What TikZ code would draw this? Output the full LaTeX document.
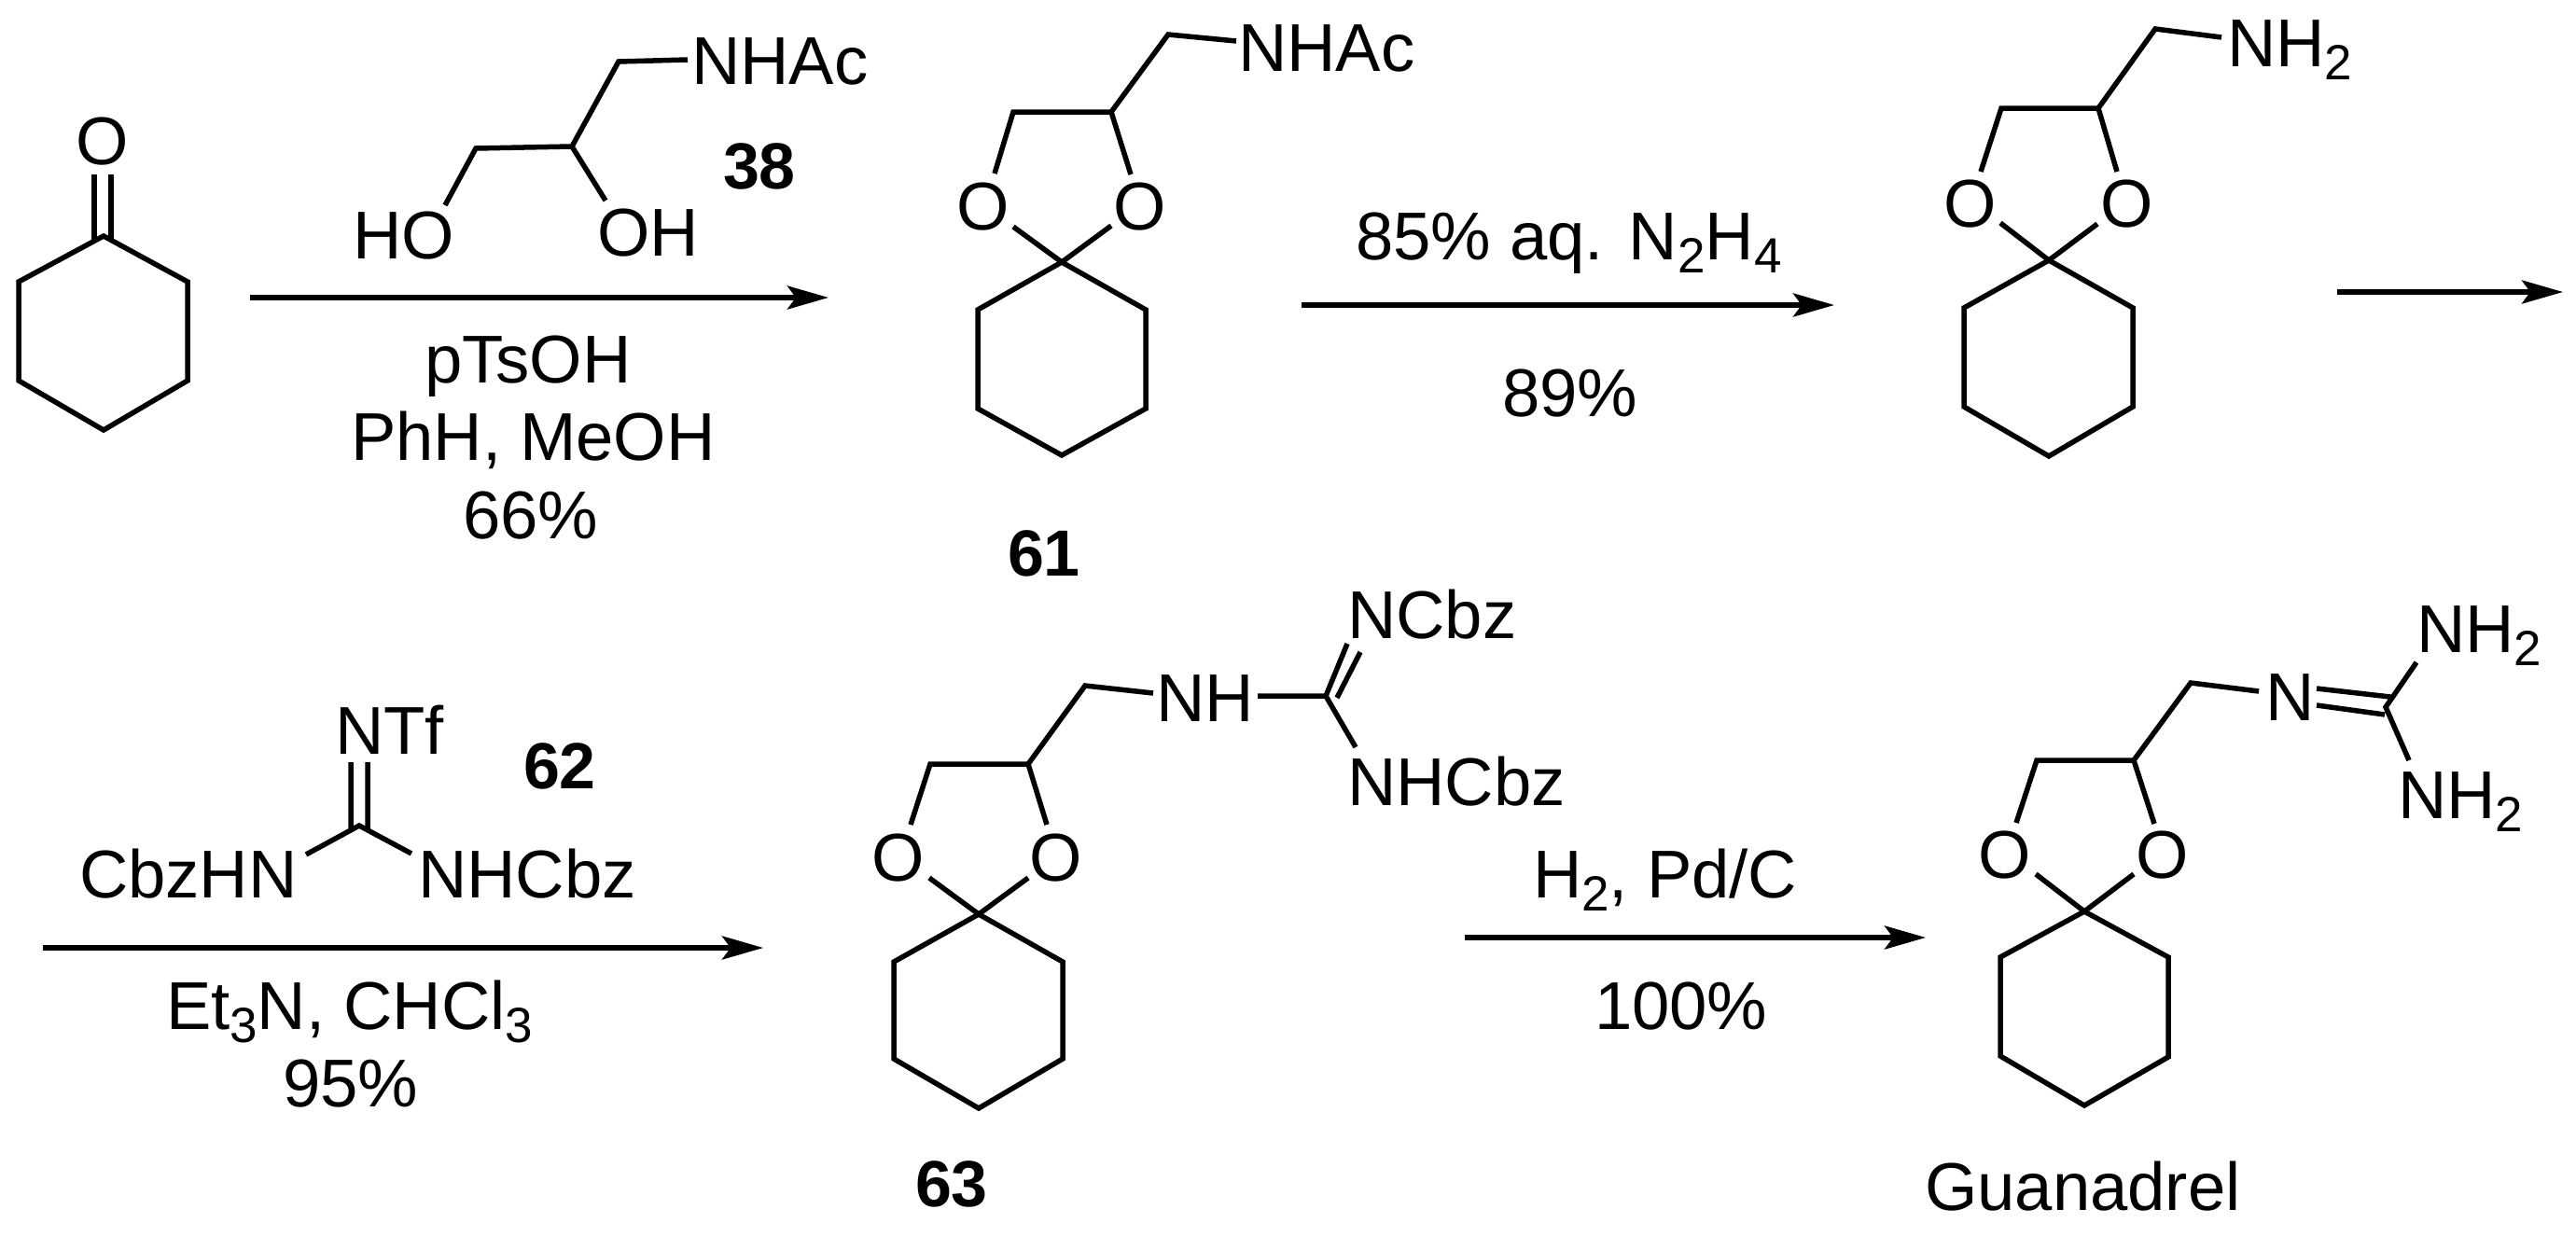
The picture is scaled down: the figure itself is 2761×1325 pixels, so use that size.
\documentclass[tikz,border=0pt]{standalone}
\usepackage{fontspec}
\setmainfont{Liberation Sans}
\usetikzlibrary{arrows.meta}
\newcommand{\chemsub}[1]{\raisebox{-14pt}{\fontsize{53}{58}\selectfont #1}}
\tikzset{
  lbl/.style={inner sep=0pt,outer sep=0pt,anchor=base west,font=\fontsize{72.5}{84}\selectfont},
  atom/.style={inner sep=0pt,outer sep=0pt,anchor=center,font=\fontsize{72.5}{84}\selectfont},
  num/.style={lbl,font=\fontsize{70}{84}\selectfont\bfseries},
  bond/.style={line width=5.5pt,line join=miter,line cap=butt},
  rxn/.style={line width=5.5pt,-{Stealth[length=44pt,width=25pt,inset=9pt]}}
}
\begin{document}
\begin{tikzpicture}[x=1pt,y=-1pt]
\useasboundingbox (0,0) rectangle (2761,1325);
% ---- cyclohexanone
\node[atom] (oa) at (110,152) {O};
\coordinate (a1) at (111,253);
\coordinate (a2) at (201,302);
\coordinate (a3) at (201,408);
\coordinate (a4) at (111,461);
\coordinate (a5) at (20,408);
\coordinate (a6) at (20,302);
\coordinate (ao1) at (101,187);
\coordinate (ao2) at (119,187);
\coordinate (ao1b) at (101,257);
\coordinate (ao2b) at (119,257);
\draw[bond] (a1)--(a2)--(a3)--(a4)--(a5)--(a6)--cycle;
\draw[bond] (ao1)--(ao1b) (ao2)--(ao2b);
% ---- reagent 38
\node[lbl] (b-nhac) at (741,90) {NHAc};
\node[lbl] (b-ho) at (378,277) {HO};
\node[lbl] (b-oh) at (640,274) {OH};
\node[num] (b-num) at (775,202) {38};
\coordinate (b1) at (737,64);
\coordinate (b2) at (663,66);
\coordinate (b3) at (613,157);
\coordinate (b4) at (510,159);
\coordinate (b5) at (477,220);
\coordinate (b6) at (649,215);
\draw[bond] (b1)--(b2)--(b3)--(b4)--(b5) (b3)--(b6);
% ---- arrow 1
\coordinate (r1s) at (268,319);
\coordinate (r1e) at (888,319);
\draw[rxn] (r1s)--(r1e);
\node[lbl] (r1a) at (455,410) {pTsOH};
\node[lbl] (r1b) at (376,493) {PhH, MeOH};
\node[lbl] (r1c) at (496,577) {66\%};
% ---- compound 61
\node[lbl] (c-nhac) at (1327,76) {NHAc};
\node[atom] (c-ol) at (1054,222) {O};
\node[atom] (c-or) at (1222,222) {O};
\node[num] (c-num) at (1080,617) {61};
\coordinate (c1) at (1325,44);
\coordinate (c2) at (1252,37);
\coordinate (c3) at (1191,120);
\coordinate (c4) at (1086,120);
\coordinate (c5) at (1066,186);
\coordinate (c6) at (1212,187);
\coordinate (c7) at (1086,243);
\coordinate (c8) at (1191,242);
\coordinate (cs) at (1138,281);
\coordinate (cr1) at (1228,332);
\coordinate (cr2) at (1228,438);
\coordinate (cr3) at (1138,488);
\coordinate (cr4) at (1048,438);
\coordinate (cr5) at (1048,332);
\draw[bond] (c1)--(c2)--(c3)--(c4)--(c5) (c3)--(c6) (c7)--(cs)--(c8);
\draw[bond] (cs)--(cr1)--(cr2)--(cr3)--(cr4)--(cr5)--cycle;
% ---- arrow 2
\coordinate (r2s) at (1395,327);
\coordinate (r2e) at (1966,327);
\draw[rxn] (r2s)--(r2e);
\node[lbl] (r2a) at (1453,278) {85\% aq. N\chemsub{2}H\chemsub{4}};
\node[lbl] (r2b) at (1610,446) {89\%};
% ---- amine
\node[lbl] (d-nh) at (2387,71) {NH\chemsub{2}};
\node[atom] (d-ol) at (2112,219) {O};
\node[atom] (d-or) at (2280,219) {O};
\coordinate (d1) at (2381,40);
\coordinate (d2) at (2310,31);
\coordinate (d3) at (2249,116);
\coordinate (d4) at (2145,116);
\coordinate (d5) at (2123,184);
\coordinate (d6) at (2269,184);
\coordinate (d7) at (2144,239);
\coordinate (d8) at (2248,240);
\coordinate (ds) at (2196,279);
\coordinate (dr1) at (2286,330);
\coordinate (dr2) at (2286,436);
\coordinate (dr3) at (2196,489);
\coordinate (dr4) at (2105,436);
\coordinate (dr5) at (2105,330);
\draw[bond] (d1)--(d2)--(d3)--(d4)--(d5) (d3)--(d6) (d7)--(ds)--(d8);
\draw[bond] (ds)--(dr1)--(dr2)--(dr3)--(dr4)--(dr5)--cycle;
% ---- arrow 3
\coordinate (r3s) at (2505,313);
\coordinate (r3e) at (2747,313);
\draw[rxn] (r3s)--(r3e);
% ---- reagent 62
\node[lbl] (e-ntf) at (359,808) {NTf};
\node[num] (e-num) at (561,845) {62};
\node[lbl] (e-l) at (85,962) {CbzHN};
\node[lbl] (e-r) at (448,962) {NHCbz};
\coordinate (e1) at (376,817);
\coordinate (e2) at (394,817);
\coordinate (e1b) at (376,889);
\coordinate (e2b) at (394,889);
\coordinate (ec) at (385,885);
\coordinate (el) at (328,916);
\coordinate (er) at (441,915);
\draw[bond] (e1)--(e1b) (e2)--(e2b) (el)--(ec)--(er);
% ---- arrow 4
\coordinate (r4s) at (46,1016);
\coordinate (r4e) at (818,1016);
\draw[rxn] (r4s)--(r4e);
\node[lbl] (r4a) at (178,1103) {Et\chemsub{3}N, CHCl\chemsub{3}};
\node[lbl] (r4b) at (303,1186) {95\%};
% ---- compound 63
\node[lbl] (f-ncbz) at (1444,684) {NCbz};
\node[lbl] (f-nh) at (1239,773) {NH};
\node[lbl] (f-nhcbz) at (1444,863) {NHCbz};
\node[atom] (f-ol) at (963,920) {O};
\node[atom] (f-or) at (1132,920) {O};
\node[num] (f-num) at (981,1293) {63};
\coordinate (f1) at (1236,743);
\coordinate (f2) at (1163,735);
\coordinate (f3) at (1102,819);
\coordinate (f4) at (997,819);
\coordinate (f5) at (976,884);
\coordinate (f6) at (1122,884);
\coordinate (f7) at (996,941);
\coordinate (f8) at (1102,941);
\coordinate (fs) at (1049,980);
\coordinate (fr1) at (1139,1031);
\coordinate (fr2) at (1139,1135);
\coordinate (fr3) at (1049,1188);
\coordinate (fr4) at (958,1135);
\coordinate (fr5) at (958,1031);
\coordinate (fg) at (1421,746);
\coordinate (fg1) at (1348,746);
\coordinate (fg2) at (1444,690);
\coordinate (fg3) at (1433,748);
\coordinate (fg4) at (1458,699);
\coordinate (fg5) at (1453,801);
\draw[bond] (f1)--(f2)--(f3)--(f4)--(f5) (f3)--(f6) (f7)--(fs)--(f8);
\draw[bond] (fs)--(fr1)--(fr2)--(fr3)--(fr4)--(fr5)--cycle;
\draw[bond] (fg1)--(fg)--(fg2) (fg3)--(fg4) (fg)--(fg5);
% ---- arrow 5
\coordinate (r5s) at (1570,1005);
\coordinate (r5e) at (2064,1005);
\draw[rxn] (r5s)--(r5e);
\node[lbl] (r5a) at (1643,962) {H\chemsub{2}, Pd/C};
\node[lbl] (r5b) at (1709,1103) {100\%};
% ---- guanadrel
\node[lbl] (g-n) at (2428,772) {N};
\node[lbl] (g-nh1) at (2590,699) {NH\chemsub{2}};
\node[lbl] (g-nh2) at (2570,877) {NH\chemsub{2}};
\node[atom] (g-ol) at (2149,917) {O};
\node[atom] (g-or) at (2318,917) {O};
\node[lbl] (g-name) at (2063,1297) {Guanadrel};
\coordinate (g1) at (2421,741);
\coordinate (g2) at (2348,732);
\coordinate (g3) at (2287,815);
\coordinate (g4) at (2183,815);
\coordinate (g5) at (2161,882);
\coordinate (g6) at (2309,883);
\coordinate (g7) at (2182,937);
\coordinate (g8) at (2287,937);
\coordinate (gs) at (2234,977);
\coordinate (gr1) at (2324,1026);
\coordinate (gr2) at (2324,1133);
\coordinate (gr3) at (2234,1185);
\coordinate (gr4) at (2144,1132);
\coordinate (gr5) at (2144,1026);
\coordinate (gd1) at (2483,738);
\coordinate (gd2) at (2562,747);
\coordinate (gd3) at (2483,756);
\coordinate (gd4) at (2556,766);
\coordinate (gc) at (2557,758);
\coordinate (gn1) at (2590,710);
\coordinate (gn2) at (2582,815);
\draw[bond] (g1)--(g2)--(g3)--(g4)--(g5) (g3)--(g6) (g7)--(gs)--(g8);
\draw[bond] (gs)--(gr1)--(gr2)--(gr3)--(gr4)--(gr5)--cycle;
\draw[bond] (gd1)--(gd2) (gd3)--(gd4) (gn1)--(gc)--(gn2);
\end{tikzpicture}
\end{document}
